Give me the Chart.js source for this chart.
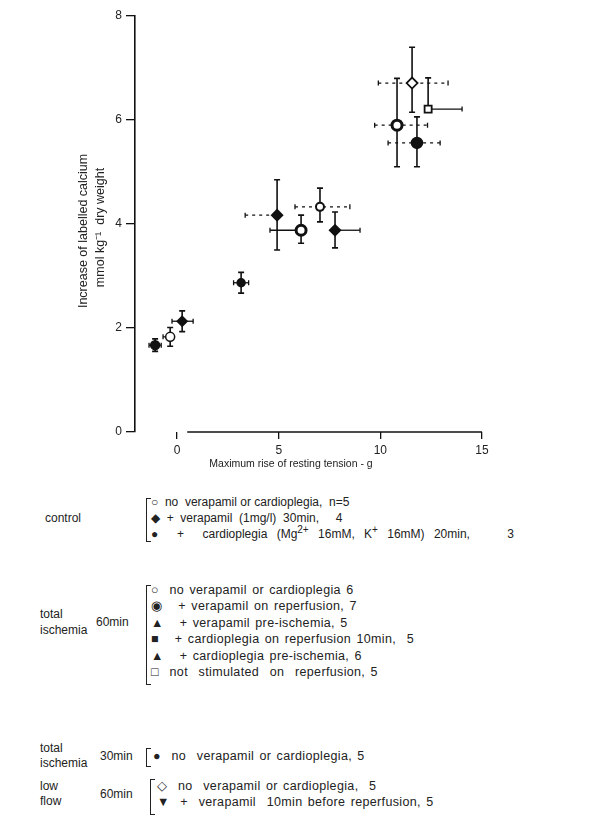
<!DOCTYPE html>
<html>
<head>
<meta charset="utf-8">
<script src="https://cdn.jsdelivr.net/npm/chart.js@4"></script>
<style>
  body { margin: 0; background: #fff; }
  #wrap { position: relative; width: 594px; height: 836px; font-family: "Liberation Sans", Arial, sans-serif; color: #222; }
  #myChart { position: absolute; left: 0; top: 0; }
  .t { position: absolute; font-size: 12px; white-space: nowrap; line-height: 14px; }
  .t.ancho { font-size: 12.5px; letter-spacing: 0.35px; word-spacing: 1.5px; }
  .br { position: absolute; border: 1.6px solid #222; border-right: none; width: 4px; }
  sup { font-size: 10px; line-height: 0; }
</style>
</head>
<body>
<div id="wrap">
  <canvas id="myChart" width="594" height="480"></canvas>
</div>
<script>
// Grupos (un punto por grupo experimental)
const grupos = [
  'control', 'control + verapamil', 'control + cardioplegia',
  'isquemia 30min', 'isq 60 + verapamil pre', 'isq 60 + verapamil reperf',
  'isq 60 + cardioplegia pre', 'isq 60 + cardioplegia reperf',
  'bajo flujo', 'no estimulado', 'isq 60', 'bajo flujo + verapamil'
];
// Aumento máximo de tensión de reposo (g)
const tension = [-1.08, -0.34, 0.25, 3.15, 4.92, 6.1, 7.03, 7.77, 11.56, 12.35, 10.82, 11.8];
// Aumento de calcio marcado (mmol/kg peso seco)
const calcio = [1.67, 1.83, 2.13, 2.87, 4.17, 3.88, 4.33, 3.88, 6.71, 6.21, 5.9, 5.56];
// Error estándar (arriba / abajo / izquierda / derecha)
const errArriba = [0.12, 0.18, 0.2, 0.2, 0.68, 0.29, 0.36, 0.35, 0.69, 0.6, 0.9, 0.5];
const errAbajo = [0.12, 0.18, 0.2, 0.2, 0.67, 0.25, 0.29, 0.34, 0.56, 0, 0.8, 0.46];
const errIzq = [0.3, 0.35, 0.5, 0.37, 1.57, 1.53, 1.23, 0, 1.66, 0, 1.1, 1.42];
const errDer = [0.3, 0, 0.54, 0.37, 0, 0, 1.47, 1.23, 1.77, 1.67, 1.5, 1.14];

const ticksX = [0, 5, 10, 15];
const ticksY = [0, 2, 4, 6, 8];

// estilos de los marcadores
const formas = ['circle', 'circle', 'rectRot', 'circle', 'rectRot', 'circle', 'circle', 'rectRot', 'rectRot', 'rect', 'circle', 'circle'];
const rellenos = [true, false, true, true, true, false, false, true, false, false, false, true];
const radios = [4.5, 4.5, 5, 4, 5.5, 5, 4, 5.5, 5.5, 5, 5, 5.5];
const bordes = [1.5, 1.5, 1.5, 1.5, 1.5, 3, 2, 1.5, 1.8, 1.8, 3, 1.5];
const discontinua = [false, false, false, false, true, false, true, false, true, false, true, true];

// leyenda en texto bajo el gráfico
const leyendaControl = [
  '○ &nbsp;no &nbsp;verapamil or cardioplegia, &nbsp;n=5',
  '◆ &nbsp;+ &nbsp;verapamil &nbsp;(1mg/l) &nbsp;30min, &nbsp;&nbsp;&nbsp;&nbsp;4',
  '<span style="word-spacing:6px">● &nbsp;+ &nbsp;cardioplegia (Mg<sup>2+</sup> 16mM, K<sup>+</sup> 16mM) 20min, &nbsp;&nbsp;&nbsp;3</span>'
];
const leyendaIsq60 = [
  '○ &nbsp;no verapamil or cardioplegia 6',
  '◉ &nbsp;&nbsp;+ verapamil on reperfusion, 7',
  '▲ &nbsp;&nbsp;+ verapamil pre-ischemia, 5',
  '■ &nbsp;&nbsp;+ cardioplegia on reperfusion 10min, &nbsp;5',
  '▲ &nbsp;&nbsp;+ cardioplegia pre-ischemia, 6',
  '□ &nbsp;not &nbsp;stimulated &nbsp;on &nbsp;reperfusion, 5'
];
const leyendaIsq30 = ['● &nbsp;no &nbsp;verapamil or cardioplegia, 5'];
const leyendaFlujo = [
  '◇ &nbsp;no &nbsp;verapamil or cardioplegia, &nbsp;5',
  '▼ &nbsp;+ &nbsp;verapamil &nbsp;10min before reperfusion, 5'
];

function texto(html, x, y, clase) {
  const d = document.createElement('div');
  d.className = 't' + (clase ? ' ' + clase : '');
  d.style.left = x + 'px';
  d.style.top = (y - 7) + 'px';
  d.innerHTML = html;
  document.getElementById('wrap').appendChild(d);
}

function llave(x, y1, y2) {
  const d = document.createElement('div');
  d.className = 'br';
  d.style.left = x + 'px';
  d.style.top = y1 + 'px';
  d.style.height = (y2 - y1) + 'px';
  document.getElementById('wrap').appendChild(d);
}

function bloque(lineas, x, y0, paso, clase) {
  lineas.forEach((l, i) => texto(l, x, y0 + i * paso, clase));
}

texto('control', 45, 518);
llave(146, 498, 540);
bloque(leyendaControl, 151, 502, 16);

texto('total', 40, 614);
texto('ischemia', 40, 630);
texto('60min', 96, 622);
llave(146, 585, 683);
bloque(leyendaIsq60, 151, 590, 16.4, 'ancho');

texto('total', 40, 748);
texto('ischemia', 40, 763);
texto('30min', 100, 756);
llave(146, 748, 765);
bloque(leyendaIsq30, 153, 756, 16, 'ancho');

texto('low', 40, 786);
texto('flow', 40, 801);
texto('60min', 100, 794);
llave(150, 779, 813);
bloque(leyendaFlujo, 157, 786, 16, 'ancho');

// barras de error dibujadas antes de los marcadores
const barrasError = {
  id: 'barrasError',
  beforeDatasetsDraw(chart) {
    const { ctx, scales: { x, y }, chartArea } = chart;
    ctx.save();
    ctx.strokeStyle = '#111';

    // eje x (empieza en cero)
    ctx.lineWidth = 1.5;
    ctx.beginPath();
    ctx.moveTo(x.getPixelForValue(0.5), chartArea.bottom);
    ctx.lineTo(chartArea.right, chartArea.bottom);
    ctx.stroke();

    tension.forEach((tx, i) => {
      const px = x.getPixelForValue(tx);
      const py = y.getPixelForValue(calcio[i]);

      // vertical
      ctx.setLineDash([]);
      ctx.lineWidth = 1.6;
      const yTop = y.getPixelForValue(calcio[i] + errArriba[i]);
      const yBot = y.getPixelForValue(calcio[i] - errAbajo[i]);
      ctx.beginPath();
      ctx.moveTo(px, yTop);
      ctx.lineTo(px, yBot);
      if (errArriba[i] > 0) { ctx.moveTo(px - 3, yTop); ctx.lineTo(px + 3, yTop); }
      if (errAbajo[i] > 0) { ctx.moveTo(px - 3, yBot); ctx.lineTo(px + 3, yBot); }
      ctx.stroke();

      // horizontal
      ctx.lineWidth = 1.3;
      ctx.setLineDash(discontinua[i] ? [3, 4] : []);
      const xL = x.getPixelForValue(tx - errIzq[i]);
      const xR = x.getPixelForValue(tx + errDer[i]);
      ctx.beginPath();
      ctx.moveTo(xL, py);
      ctx.lineTo(xR, py);
      ctx.stroke();
      ctx.setLineDash([]);
      ctx.beginPath();
      if (errIzq[i] > 0) { ctx.moveTo(xL, py - 2.5); ctx.lineTo(xL, py + 2.5); }
      if (errDer[i] > 0) { ctx.moveTo(xR, py - 2.5); ctx.lineTo(xR, py + 2.5); }
      ctx.stroke();
    });
    ctx.restore();
  }
};

const ctx = document.getElementById('myChart').getContext('2d');

const myChart = new Chart(ctx, {
  type: 'scatter',
  data: {
    datasets: grupos.map((g, i) => ({
      label: g,
      data: [{ x: tension[i], y: calcio[i] }],
      pointStyle: formas[i],
      pointRadius: radios[i],
      pointBackgroundColor: rellenos[i] ? '#111' : '#fff',
      pointBorderColor: '#111',
      pointBorderWidth: bordes[i]
    }))
  },
  options: {
    responsive: false,
    animation: false,
    devicePixelRatio: 1,
    layout: { padding: { left: 0, right: 112, top: 16, bottom: 0 } },
    plugins: {
      legend: { display: false },
      tooltip: { enabled: false }
    },
    scales: {
      x: {
        type: 'linear',
        min: -2.07,
        max: 15,
        afterBuildTicks: s => { s.ticks = ticksX.map(v => ({ value: v })); },
        afterFit: s => { s.height = 48; },
        border: { display: false },
        grid: { drawOnChartArea: false, drawTicks: true, tickLength: 7, color: '#111', lineWidth: 1.3 },
        ticks: { color: '#222', font: { family: 'Liberation Sans', size: 12 }, padding: 4, maxRotation: 0 },
        title: {
          display: true,
          // espacios finales para correr el título un poco a la izquierda
          text: 'Maximum rise of resting tension - g' + '\u00A0'.repeat(12),
          color: '#222',
          font: { family: 'Liberation Sans', size: 10.5 },
          padding: { top: 0, bottom: 10 }
        }
      },
      y: {
        min: 0,
        max: 8,
        afterBuildTicks: s => { s.ticks = ticksY.map(v => ({ value: v })); },
        afterFit: s => { s.width = 135; },
        border: { display: true, color: '#111', width: 1.6 },
        grid: { drawOnChartArea: false, drawTicks: true, tickLength: 9, color: '#111', lineWidth: 1.3 },
        ticks: { color: '#222', font: { family: 'Liberation Sans', size: 12 }, padding: 4 },
        title: {
          display: true,
          text: ['Increase of labelled calcium' + '\u00A0'.repeat(4), 'mmol kg\u207B\u00B9  dry weight' + '\u00A0'.repeat(2)],
          color: '#222',
          font: { family: 'Liberation Sans', size: 12.5, lineHeight: 1.36 },
          padding: { top: 75, bottom: 0 }
        }
      }
    }
  },
  plugins: [barrasError]
});
</script>
</body>
</html>
